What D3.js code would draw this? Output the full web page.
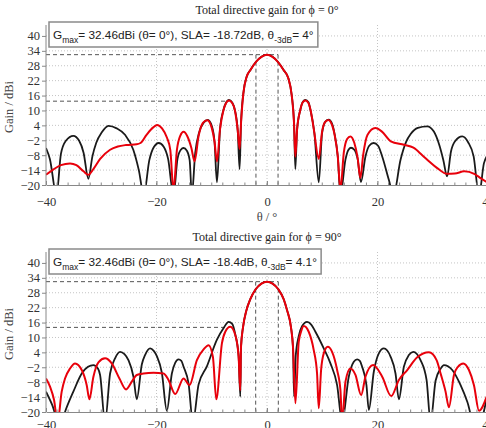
<!DOCTYPE html>
<html>
<head>
<meta charset="utf-8">
<script src="https://cdn.jsdelivr.net/npm/d3@7"></script>
<style>
  html, body { margin: 0; padding: 0; background: #fff; }
  svg { display: block; }
</style>
</head>
<body>
<svg id="chart" width="486" height="428"></svg>
<script>
// ---------------- DATA ----------------
const xTickValues = [-40, -20, 0, 20, 40];
const yTickValues = [-20, -14, -8, -2, 4, 10, 16, 22, 28, 34, 40];
const titles = ["Total directive gain for \u03D5 = 0\u00B0", "Total directive gain for \u03D5 = 90\u00B0"];
const gMax = [32.46, 32.46];
const slaValues = [-18.72, -18.4];
const beamwidths = [4, 4.1];
const slaTheta = [-6.9, -6.7];
const xAxisLabel = "\u03B8 / \u00B0";
const yAxisLabel = "Gain / dBi";

// phi = 0 deg, black series  [theta, gain]
const phi0Black = [
  [-40,-5.1],[-39.3,-9.5],[-38.1,-24],[-37.3,-7.5],[-36.4,-2.2],[-35.05,-0.2],[-34.0,-2.2],[-33.2,-7.0],
  [-32.33,-17.5],[-31.6,-8.5],[-30.9,-3.0],[-29.9,1.2],[-28.7,3.8],[-27.2,2.8],[-25.7,0.2],[-24.2,-5.8],
  [-23.2,-14],[-22.3,-24],[-21.3,-10],[-20.5,-4.8],[-19.6,-3.1],[-18.7,-4.6],[-17.9,-9.5],[-16.92,-24],
  [-16.2,-9.5],[-15.6,-5.8],[-15.1,-5.1],[-14.5,-6.2],[-14.0,-10.0],[-13.6,-24],[-12.99,-7.1],[-12.3,1.0],
  [-11.5,5.0],[-10.7,6.2],[-10.0,3.8],[-9.5,-2.5],[-9.06,-18.9],[-8.5,2.5],[-7.9,10],[-7.4,13.2],[-6.9,14.3],
  [-6.3,13.2],[-5.8,10],[-5.3,2],[-4.96,-13.6],
  [-4.7,5.0],[-4.28,16.9],[-3.68,23.6],[-3.0,26.3],[-1.99,29.6],[-1.0,31.6],[0,32.46],[1.0,31.6],[2.0,29.5],
  [3.0,26.3],[3.86,23.0],[4.47,16.2],[4.89,5.0],
  [5.13,-13.6],[5.44,2.2],[6.04,10.3],[6.5,13.5],[6.95,14.3],[7.5,13.3],[7.86,10.3],[8.58,0.9],[9.37,-18.9],
  [9.97,0.9],[10.57,5.5],[11.18,6.3],[11.8,4.5],[12.2,0.9],[12.81,-8.5],[13.29,-24],[14.2,-9.8],[14.7,-6.0],
  [15.2,-5.0],[15.8,-5.8],[16.4,-9.5],[17.0,-18.8],[17.82,-8.5],[18.5,-4.2],[19.3,-3.1],[20.1,-4.2],
  [20.85,-8.5],[22.05,-17.9],[22.9,-24],[24.17,-9.8],[25.2,-2.5],[26.0,0.5],[27.3,3.0],[29.0,3.6],[30.2,1.5],
  [31.2,-4.0],[31.9,-9.8],[32.6,-16.5],[33.3,-6.5],[34.0,-2.5],[35.35,-0.45],[36.4,-2.8],[37.4,-8.5],
  [38.37,-24],[39.27,-11.2],[39.76,-8.5]
];

// phi = 0 deg, red series
const phi0Red = [
  [-40,-15.9],[-38.7,-13.8],[-37.3,-12.0],[-35.65,-11.3],[-34.5,-12.0],[-33.2,-14.5],[-32.33,-15.9],
  [-31.4,-13.5],[-30.2,-9.5],[-28.4,-5.8],[-27.0,-4.5],[-25.5,-3.9],[-23.6,-3.6],[-22.9,-3.1],[-21.8,0.2],
  [-20.6,3.2],[-19.9,4.2],[-19.0,2.8],[-18.1,-1.0],[-17.5,-6.0],[-16.92,-22],[-16.3,-5.8],[-15.7,-0.2],
  [-15.1,1.4],[-14.4,-0.5],[-13.7,-5.0],[-13.1,-10.5],[-12.4,-0.5],[-11.6,5.0],[-10.8,6.1],[-10.0,3.0],
  [-9.5,-2.5],[-9.06,-10.5],[-8.5,2.5],[-7.9,10],[-7.4,13.0],[-6.9,14.0],[-6.3,13.0],[-5.8,10],[-5.3,2],
  [-4.96,-5.5],
  [-4.7,5.0],[-4.28,16.9],[-3.68,23.6],[-3.0,26.3],[-1.99,29.6],[-1.0,31.6],[0,32.46],[1.0,31.6],[2.0,29.5],
  [3.0,26.3],[3.86,23.0],[4.47,16.2],[4.89,5.0],
  [5.13,-8.6],[5.44,2.2],[6.0,10],[6.45,13.2],[6.95,14.0],[7.5,13],[7.9,10],[8.5,2],[9.37,-9.5],[9.97,1.5],
  [10.5,5.3],[11.1,6.2],[11.8,4.0],[12.3,-0.5],[12.81,-8.5],[13.29,-22],[13.9,-7.0],[14.5,-1.5],[15.1,-0.45],
  [15.8,-3.0],[16.4,-9.0],[16.9,-17.2],[17.4,-8.0],[18.2,0.2],[19.6,2.9],[20.8,1.5],[22.4,-2.4],[24.8,-3.8],
  [26.5,-5.0],[28.1,-8.0],[29.0,-9.8],[31.0,-13.5],[32.6,-15.5],[34.0,-15.4],[35.7,-14.5],[37.5,-15.5],
  [38.5,-17.0],[39.76,-18.8]
];

// phi = 90 deg, black series
const phi90Black = [
  [-40,-11.8],[-38.9,-17],[-37.4,-26],[-36.56,-20],[-35.05,-11.8],[-33.53,-4.5],[-32.4,-1.8],[-31.42,-1.1],
  [-30.6,-2.5],[-30.21,-5.1],[-29.31,-24],[-28.4,-4.5],[-27.5,1.6],[-26.59,4.2],[-25.8,3.3],[-25.08,0.9],
  [-24.17,-5.8],[-23.57,-14.9],[-22.66,-0.9],[-22.05,3.0],[-21.15,5.6],[-20.5,4.6],[-19.94,2.5],[-19.03,-4.2],
  [-18.13,-19.5],[-17.22,-4.5],[-16.62,-0.2],[-16.01,1.2],[-15.5,0.6],[-15.1,-1.8],[-14.2,-8.5],[-13.41,-24],
  [-12.39,-9.0],[-10.88,-1.6],[-9.06,9.1],[-7.85,13.8],[-6.95,16.3],[-6.3,15.5],[-5.74,11.2],[-5.14,2.6],
  [-4.83,-13.8],
  [-4.71,6.0],[-4.35,14.0],[-3.75,20.7],[-3.02,25.4],[-2.05,29.4],[-1.0,31.7],[0,32.46],[1.0,31.7],[2.05,29.4],
  [3.02,25.4],[3.63,21.0],[4.35,14.0],[4.71,6.0],
  [4.9,-13.8],[5.2,2.6],[5.74,10.5],[6.34,14.5],[7.25,16.3],[8.0,15.2],[8.76,12.3],[10.27,5.6],[11.48,-0.45],
  [12.69,-9.2],[13.6,-24],[14.8,-5.8],[15.71,0.2],[16.31,1.2],[16.8,0.6],[17.22,-1.8],[18.0,-9.2],[18.43,-19.2],
  [19.33,-3.8],[20.24,3.6],[21.15,5.6],[22.36,2.3],[23.26,-4.5],[23.87,-14.9],[24.77,-1.8],[25.68,2.9],
  [26.47,4.2],[27.79,0.9],[28.88,-7.1],[29.61,-24],[30.51,-7.4],[31.42,-2.6],[32.02,-1.1],[33.53,-3.1],
  [35.04,-9.2],[36.25,-15.9],[37.9,-28],[39.76,-14.5]
];

// phi = 90 deg, red series
const phi90Red = [
  [-40,-6.5],[-39.27,-9.8],[-38.55,-15.1],[-37.9,-24],[-37.16,-11.8],[-36.56,-6.5],[-35.65,-2.5],[-34.74,-0.45],
  [-33.53,-3.1],[-32.63,-9.2],[-32.15,-14.9],[-31.42,-5.8],[-30.51,0.0],[-29.31,1.6],[-28.1,-0.45],[-26.71,-6.5],
  [-25.5,-10.9],[-24.47,-7.8],[-23.57,-5.1],[-22.36,-4.5],[-20.54,-4.2],[-18.73,-4.5],[-17.83,-7.1],
  [-16.62,-12.8],[-15.1,-6.5],[-14.02,-9.2],[-12.69,0.9],[-11.48,5.2],[-10.57,6.9],[-9.79,2.2],[-9.18,-14.9],
  [-8.16,7.6],[-7.55,12.3],[-6.65,14.3],[-5.74,11.0],[-5.14,2.3],[-4.83,-11.2],
  [-4.71,6.0],[-4.35,14.0],[-3.75,20.7],[-3.02,25.4],[-2.05,29.4],[-1.0,31.7],[0,32.46],[1.0,31.7],[2.05,29.4],
  [3.02,25.4],[3.63,21.0],[4.35,14.0],[4.71,6.0],
  [5.14,-16.5],[5.74,8.2],[6.16,12.3],[6.65,14.6],[7.55,12.3],[8.46,4.9],[9.06,-4.5],[9.37,-18.5],[9.79,-3.1],
  [10.27,3.6],[11.0,6.25],[11.78,4.2],[12.69,-3.1],[13.29,-11.2],[13.6,-24],[14.2,-7.8],[15.1,-2.5],[16.01,-5.1],
  [17.04,-13.2],[17.82,-5.8],[19.21,-1.1],[20.85,-5.8],[22.48,-13.6],[23.87,-7.1],[25.38,-3.1],[27.19,2.0],
  [29.31,4.0],[30.69,0.9],[31.42,-4.5],[32.32,-11.8],[32.93,-18.1],[33.84,-5.1],[34.56,-1.8],[35.53,-0.45],
  [36.55,-3.1],[37.46,-9.2],[38.37,-19.5],[39.76,-13.8]
];

// ---------------- LAYOUT ----------------
const svg = d3.select("#chart");
const serif = "'Liberation Serif', 'Times New Roman', serif";
const sans = "'Liberation Sans', Arial, sans-serif";

const panels = [
  { top: 25, bottom: 185, titleY: 14, labelOffset: 21, xLabelY: 221, black: phi0Black, red: phi0Red },
  { top: 252, bottom: 412, titleY: 241, labelOffset: 17, xLabelY: null, black: phi90Black, red: phi90Red }
];

const left = 46, right = 488;
const x = d3.scaleLinear().domain([-40, 40]).range([left, right]);

panels.forEach((p, i) => {
  const y = d3.scaleLinear().domain([-20, 44.4]).range([p.bottom, p.top]);
  const g = svg.append("g");

  const clipId = "clip" + i;
  svg.append("clipPath").attr("id", clipId)
    .append("rect").attr("x", left).attr("y", p.top).attr("width", 486 - left).attr("height", p.bottom - p.top);

  // grid
  g.append("g").selectAll("line").data(yTickValues.filter(v => v > -20)).join("line")
    .attr("x1", left).attr("x2", 486).attr("y1", d => y(d)).attr("y2", d => y(d))
    .attr("stroke", "#c4c4c4").attr("stroke-width", 1).attr("stroke-dasharray", "1,2");
  g.append("g").selectAll("line").data([-20, 0, 20]).join("line")
    .attr("x1", d => x(d)).attr("x2", d => x(d)).attr("y1", p.top).attr("y2", p.bottom)
    .attr("stroke", "#c4c4c4").attr("stroke-width", 1).attr("stroke-dasharray", "1,2");

  // dashed annotation lines
  const half = beamwidths[i] / 2;
  const ann = g.append("g").attr("stroke", "#555").attr("stroke-width", 1).attr("stroke-dasharray", "4,3").attr("fill", "none");
  ann.append("line").attr("x1", left).attr("x2", x(half)).attr("y1", y(gMax[i])).attr("y2", y(gMax[i]));
  ann.append("line").attr("x1", left).attr("x2", x(slaTheta[i])).attr("y1", y(gMax[i] + slaValues[i])).attr("y2", y(gMax[i] + slaValues[i]));
  ann.append("line").attr("x1", x(-half)).attr("x2", x(-half)).attr("y1", y(gMax[i])).attr("y2", p.bottom);
  ann.append("line").attr("x1", x(half)).attr("x2", x(half)).attr("y1", y(gMax[i])).attr("y2", p.bottom);

  // curves
  const line = d3.line().x(d => x(d[0])).y(d => y(d[1])).curve(d3.curveMonotoneX);
  const cg = g.append("g").attr("clip-path", `url(#${clipId})`);
  cg.append("path").datum(p.black).attr("d", line)
    .attr("fill", "none").attr("stroke", "#1a1a1a").attr("stroke-width", 1.8).attr("stroke-linejoin", "round");
  cg.append("path").datum(p.red).attr("d", line)
    .attr("fill", "none").attr("stroke", "#e8000b").attr("stroke-width", 2).attr("stroke-linejoin", "round");

  // axes
  const yAxis = d3.axisLeft(y).tickValues(yTickValues).tickSize(4).tickSizeOuter(0).tickPadding(2);
  const ya = g.append("g").attr("transform", `translate(${left},0)`).call(yAxis);
  ya.select(".domain").attr("stroke", "#888").attr("d", `M0,${p.top}V${p.bottom}`);
  ya.selectAll(".tick line").attr("stroke", "#888");
  ya.selectAll("text").attr("font-family", serif).attr("font-size", 12.5).attr("fill", "#333");

  const xAxis = d3.axisBottom(x).tickValues(xTickValues).tickSizeInner(-4).tickSizeOuter(0).tickPadding(p.labelOffset - 9);
  const xa = g.append("g").attr("transform", `translate(0,${p.bottom})`).call(xAxis);
  xa.select(".domain").attr("stroke", "#888");
  xa.selectAll(".tick line").attr("stroke", "#888");
  xa.selectAll("text").attr("font-family", serif).attr("font-size", 12.5).attr("fill", "#333");
  // minor ticks every 2 degrees
  xa.append("g").selectAll("line").data(d3.range(-38, 40, 2)).join("line")
    .attr("x1", d => x(d)).attr("x2", d => x(d)).attr("y1", 0).attr("y2", -2.5)
    .attr("stroke", "#888");

  // title
  svg.append("text").attr("x", x(0)).attr("y", p.titleY).attr("text-anchor", "middle")
    .attr("font-family", serif).attr("font-size", 12).attr("fill", "#222").text(titles[i]);

  // y label
  svg.append("text").attr("transform", `translate(13,${(p.top + p.bottom) / 2 + 2}) rotate(-90)`)
    .attr("text-anchor", "middle").attr("font-family", serif).attr("font-size", 12.5).attr("fill", "#444")
    .text(yAxisLabel);

  if (p.xLabelY) {
    svg.append("text").attr("x", x(0)).attr("y", p.xLabelY).attr("text-anchor", "middle")
      .attr("font-family", serif).attr("font-size", 12.5).attr("fill", "#444").text(xAxisLabel);
  }

  // legend box
  const lg = svg.append("g");
  const rect = lg.append("rect").attr("x", 49).attr("y", p.top - 3).attr("height", 25)
    .attr("fill", "#fff").attr("stroke", "#8a8a8a").attr("stroke-width", 1.5);
  const t = lg.append("text").attr("x", 53).attr("y", p.top + 14)
    .attr("font-family", sans).attr("font-size", 11.8).attr("fill", "#222");
  t.append("tspan").text("G");
  t.append("tspan").attr("font-size", 8.5).attr("dy", 4).text("max");
  t.append("tspan").attr("dy", -4).text(`= ${gMax[i]}dBi (\u03B8= 0\u00B0), SLA= ${slaValues[i]}dB, \u03B8`);
  t.append("tspan").attr("font-size", 8.5).attr("dy", 4).text("-3dB");
  t.append("tspan").attr("dy", -4).text(`= ${beamwidths[i]}\u00B0`);
  const bb = t.node().getBBox();
  rect.attr("width", bb.width + 8);
});
</script>
</body>
</html>
